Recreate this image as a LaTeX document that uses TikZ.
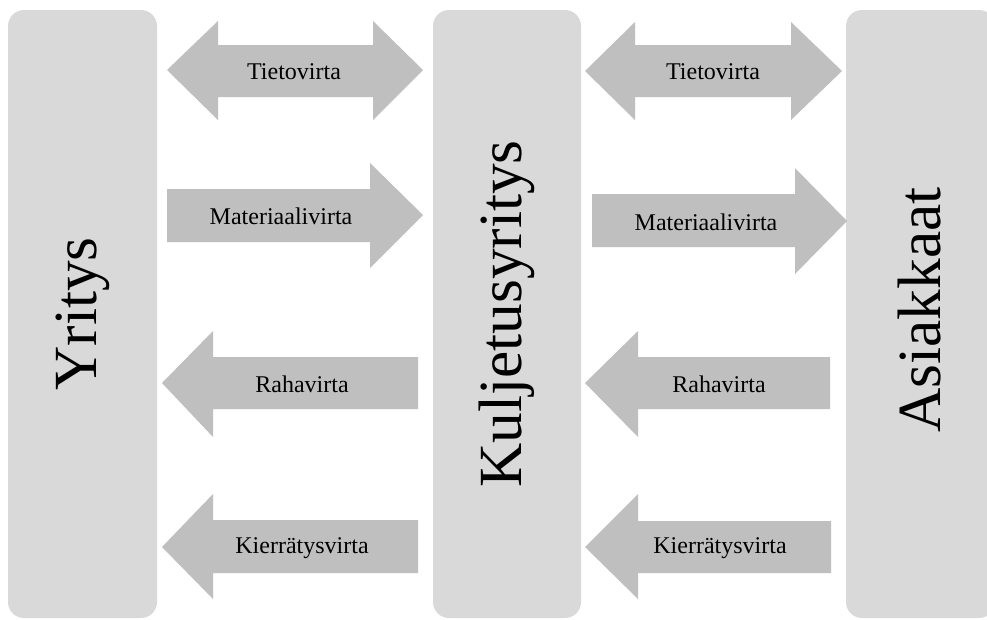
\documentclass[tikz,border=0pt]{standalone}
\usepackage{fontspec}
\setmainfont{Liberation Serif}
\definecolor{boxgray}{HTML}{D9D9D9}
\definecolor{arrgray}{HTML}{BFBFBF}
\begin{document}
\begin{tikzpicture}[x=0.75pt,y=-0.75pt,
  colbox/.style={fill=boxgray,rounded corners=12pt},
  flow/.style={fill=arrgray},
  flowlabel/.style={inner sep=0pt,font=\fontsize{18}{20}\selectfont},
  biglabel/.style={inner sep=0pt,rotate=90,font=\fontsize{46}{50}\selectfont}]
\useasboundingbox (0,0) rectangle (987,619);
\clip (0,0) rectangle (987,619);
\fill[white] (0,0) rectangle (987,619);
% columns
\fill[colbox] (8,10) rectangle (157,618);
\fill[colbox] (433,10) rectangle (581,618);
\fill[colbox] (846,10) rectangle (995,618);
\node[biglabel] (yritys) at (83,314) {Yritys};
\node[biglabel] (kulj) at (507,314) {Kuljetusyritys};
\node[biglabel] (asiak) at (920,310) {Asiakkaat};
% Tietovirta
\fill[flow] (167,70) -- (218,21) -- (218,45) -- (373,45) -- (373,21) -- (423,70) -- (373,120) -- (373,97) -- (218,97) -- (218,120) -- cycle;
\fill[flow] (585,71) -- (635,22) -- (635,45) -- (791,45) -- (791,22) -- (842,71) -- (791,120) -- (791,97) -- (635,97) -- (635,120) -- cycle;
\node[flowlabel] (t1) at (294,72) {Tietovirta};
\node[flowlabel] (t2) at (713,72) {Tietovirta};
% Materiaalivirta
\fill[flow] (167,189) -- (370,189) -- (370,163) -- (423,215) -- (370,268) -- (370,242) -- (167,242) -- cycle;
\fill[flow] (592,194) -- (795,194) -- (795,168) -- (847,221) -- (795,274) -- (795,247) -- (592,247) -- cycle;
\node[flowlabel] (m1) at (281,216) {Materiaalivirta};
\node[flowlabel] (m2) at (706,222) {Materiaalivirta};
% Rahavirta
\fill[flow] (162,383) -- (213,331) -- (213,357) -- (418,357) -- (418,409) -- (213,409) -- (213,437) -- cycle;
\fill[flow] (585,383) -- (638,331) -- (638,357) -- (830,357) -- (830,409) -- (638,409) -- (638,437) -- cycle;
\node[flowlabel] (r1) at (302,384) {Rahavirta};
\node[flowlabel] (r2) at (719,384) {Rahavirta};
% Kierratysvirta
\fill[flow] (162,547) -- (213,494) -- (213,520) -- (418,520) -- (418,573) -- (213,573) -- (213,599) -- cycle;
\fill[flow] (585,547) -- (638,494) -- (638,521) -- (831,521) -- (831,573) -- (638,573) -- (638,599) -- cycle;
\node[flowlabel] (k1) at (302,548) {Kierrätysvirta};
\node[flowlabel] (k2) at (720,548) {Kierrätysvirta};
\end{tikzpicture}
\end{document}
